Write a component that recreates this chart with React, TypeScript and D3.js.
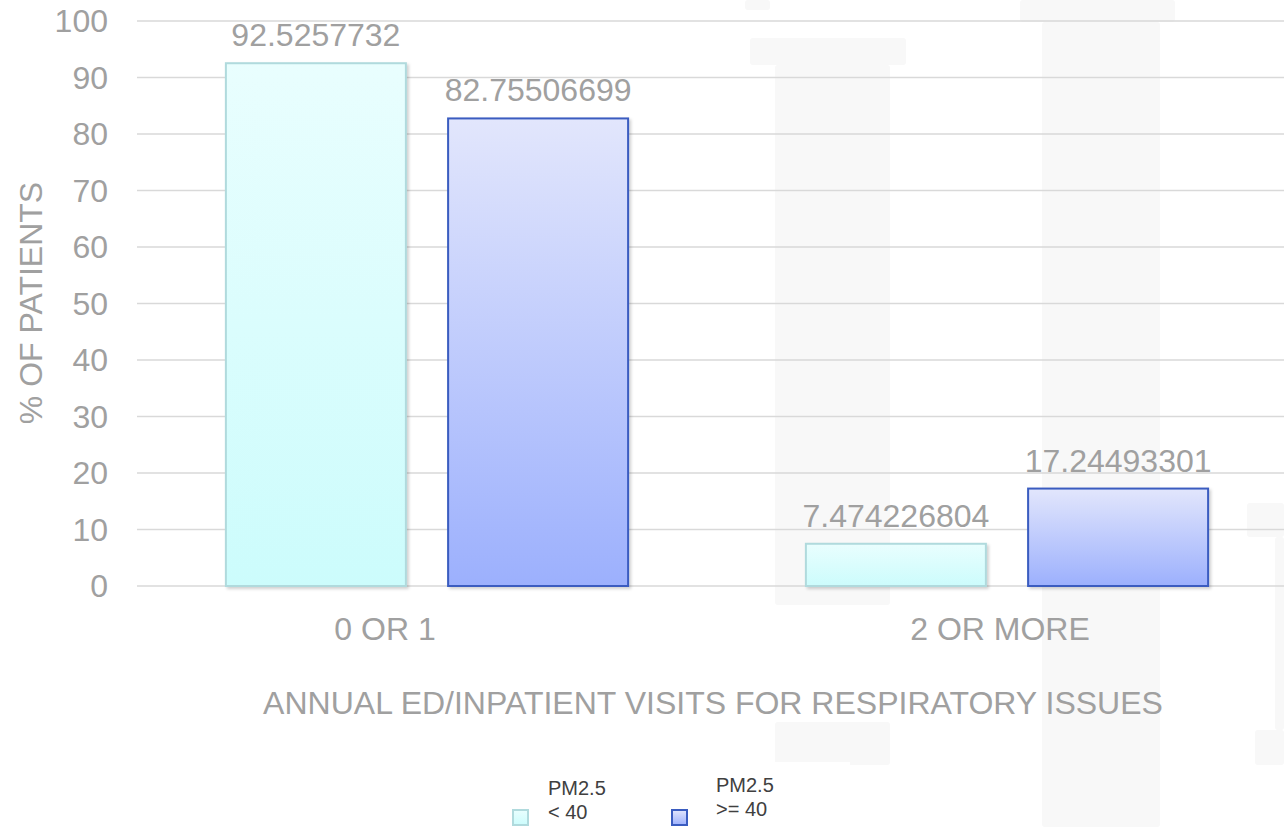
import React from "react";
import * as d3 from "d3";

const categories = ["0 OR 1", "2 OR MORE"];
const seriesNames = ["PM2.5 < 40", "PM2.5 >= 40"];
const seriesLegendLines = [["PM2.5", "< 40"], ["PM2.5", ">= 40"]];
const lowValues = [92.5257732, 7.474226804];
const highValues = [82.75506699, 17.24493301];
const valueLabels = [["92.5257732", "7.474226804"], ["82.75506699", "17.24493301"]];
const yTicks = [0, 10, 20, 30, 40, 50, 60, 70, 80, 90, 100];

const W = 1284;
const H = 827;
const FONT = "'Liberation Sans', Arial, sans-serif";
const GRAY = "#a0a0a0";
const FS = 32;

const seriesStyle = [
  { top: "#e9fefe", bottom: "#ccfcfc", stroke: "#b0dadd" },
  { top: "#e2e6fc", bottom: "#9cb0fd", stroke: "#3a5cc0" },
];

// faint watermark shapes in the background
const watermark = [
  [745, 0, 25, 10],
  [750, 38, 156, 27],
  [775, 65, 115, 540],
  [775, 722, 115, 43],
  [1020, 0, 155, 22],
  [1042, 22, 118, 805],
  [1247, 503, 37, 34],
  [1275, 537, 9, 193],
  [1255, 730, 29, 35],
];

export default function App() {
  const y = d3.scaleLinear().domain([0, 100]).range([586, 21]);
  const x0 = d3.scaleBand<string>().domain(categories).range([137, 1297]);
  const x1 = d3
    .scaleBand<number>()
    .domain([0, 1])
    .range([0, x0.bandwidth()])
    .paddingInner(0.19)
    .paddingOuter(0.4);
  const xLabel = d3.scaleBand<string>().domain(categories).range([77.5, 1307.5]);
  const series = [lowValues, highValues];

  return (
    <svg
      width={W}
      height={H}
      style={{ position: "absolute", left: 0, top: 0, background: "#fff" }}
      fontFamily={FONT}
    >
      <defs>
        {seriesStyle.map((s, i) => (
          <linearGradient key={i} id={`g${i}`} x1="0" y1="0" x2="0" y2="1">
            <stop offset="0" stopColor={s.top} />
            <stop offset="1" stopColor={s.bottom} />
          </linearGradient>
        ))}
        <filter id="sh" x="-10%" y="-10%" width="130%" height="130%">
          <feDropShadow dx="2" dy="2" stdDeviation="1.5" floodColor="#000" floodOpacity="0.18" />
        </filter>
      </defs>
      <rect x={0} y={0} width={W} height={H} fill="#fff" />
      {watermark.map((r, i) => (
        <rect key={i} x={r[0]} y={r[1]} width={r[2]} height={r[3]} fill="#f8f8f8" rx={3} />
      ))}
      {/* gridlines */}
      {yTicks.map((t) => (
        <line key={t} x1={137} x2={W} y1={y(t)} y2={y(t)} stroke="#d9d9d9" strokeWidth={1.5} />
      ))}
      {/* y tick labels */}
      {yTicks.map((t) => (
        <text key={t} x={108} y={y(t)} dy="0.35em" textAnchor="end" fontSize={FS} fill={GRAY}>
          {t}
        </text>
      ))}
      {/* bars */}
      {categories.map((c, ci) =>
        series.map((vals, si) => {
          const bx = (x0(c) as number) + (x1(si) as number);
          const by = y(vals[ci]);
          const bh = y(0) - by;
          return (
            <g key={`${ci}-${si}`}>
              <rect
                x={bx}
                y={by}
                width={x1.bandwidth()}
                height={bh}
                fill={`url(#g${si})`}
                stroke={seriesStyle[si].stroke}
                strokeWidth={2}
                filter="url(#sh)"
              />
              <text
                x={bx + x1.bandwidth() / 2}
                y={by - 17}
                textAnchor="middle"
                fontSize={FS}
                fill={GRAY}
              >
                {valueLabels[si][ci]}
              </text>
            </g>
          );
        })
      )}
      {/* category labels */}
      {categories.map((c) => (
        <text
          key={c}
          x={(xLabel(c) as number) + xLabel.bandwidth() / 2}
          y={640}
          textAnchor="middle"
          fontSize={FS}
          fill={GRAY}
        >
          {c}
        </text>
      ))}
      {/* axis titles */}
      <text x={713} y={714} textAnchor="middle" fontSize={FS} fill={GRAY}>
        ANNUAL ED/INPATIENT VISITS FOR RESPIRATORY ISSUES
      </text>
      <text
        transform="translate(31,303) rotate(-90)"
        textAnchor="middle"
        dy="0.35em"
        fontSize={FS}
        fill={GRAY}
      >
        % OF PATIENTS
      </text>
      {/* legend */}
      <rect x={490} y={762} width={360} height={65} fill="#fff" />
      {seriesNames.map((n, i) => {
        const sx = i === 0 ? 512 : 671;
        const tx = i === 0 ? 548 : 716;
        const ty = i === 0 ? 795 : 792;
        return (
          <g key={n}>
            <rect
              x={sx + 1}
              y={810}
              width={15}
              height={15}
              fill={`url(#g${i})`}
              stroke={seriesStyle[i].stroke}
              strokeWidth={2}
            />
            {seriesLegendLines[i].map((line, li) => (
              <text key={li} x={tx} y={ty + li * 24} fontSize={20} fill="#404040">
                {line}
              </text>
            ))}
          </g>
        );
      })}
    </svg>
  );
}
